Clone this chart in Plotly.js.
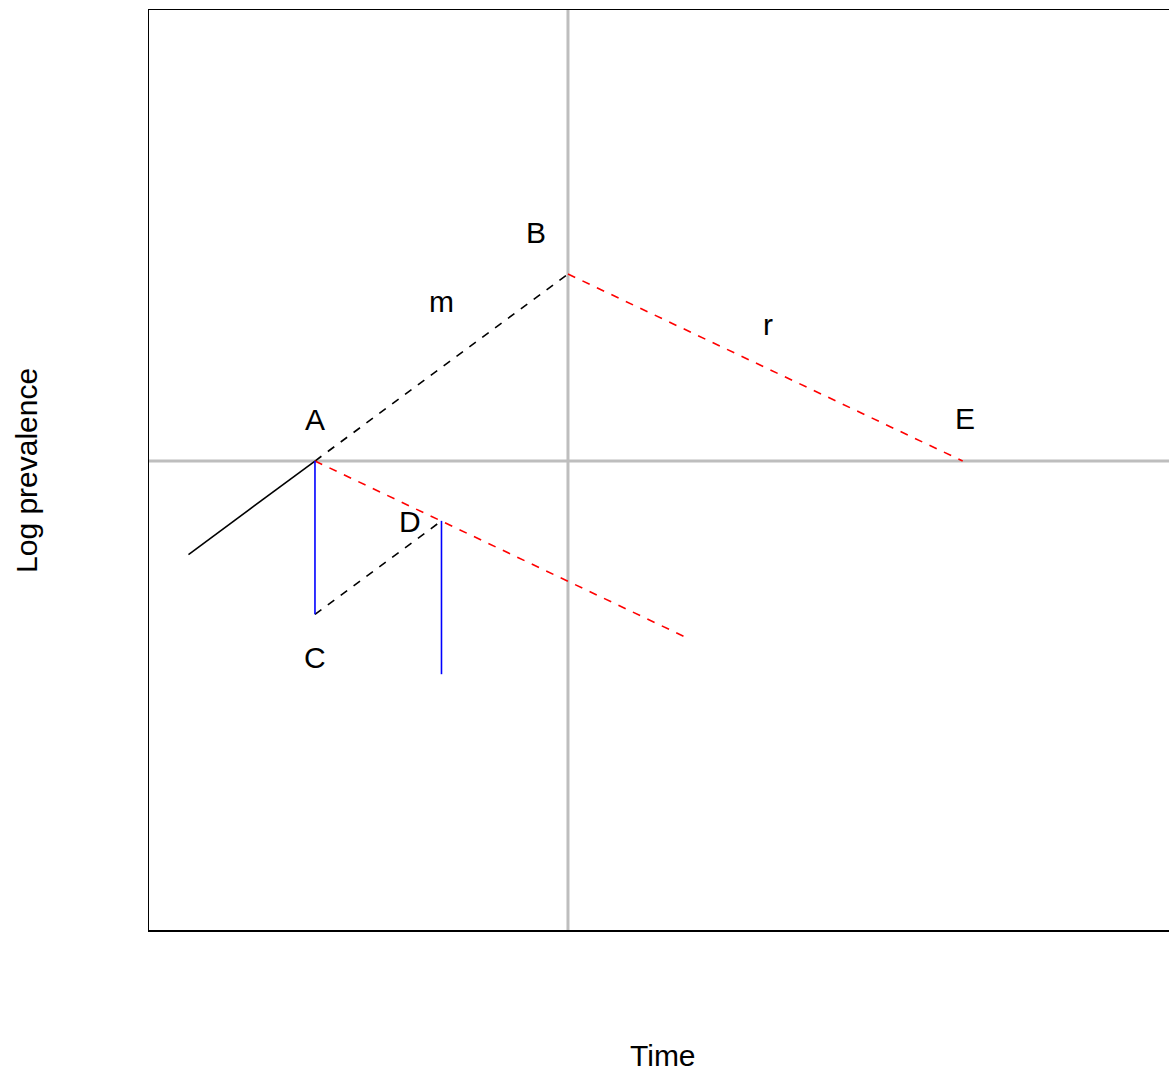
<!DOCTYPE html>
<html>
<head>
<meta charset="utf-8">
<script src="https://cdn.plot.ly/plotly-3.0.1.min.js"></script>
<style>html,body{margin:0;padding:0;background:#fff;overflow:hidden}</style>
</head>
<body>
<div id="chart" style="width:1169px;height:1071px"></div>
<script>
// Key points (time, log prevalence)
const pointA = [1, 0];
const pointB = [3, 2];
const pointC = [1, -1.64];
const pointD = [2, -0.64];
const pointE = [6.12, 0];
const startPoint = [0, -1];
const redEnd = [3.97, -1.91];
const blueEndD = [2, -2.28];
const refTime = 3;
const refLevel = 0;

const labelNames = ["A", "B", "C", "D", "E", "m", "r"];
const labelX = [1, 2.75, 1, 1.75, 6.14, 2.0, 4.58];
const labelY = [0.44, 2.44, -2.10, -0.65, 0.45, 1.71, 1.46];

const font = {family: "Liberation Sans, Arial, sans-serif", size: 30, color: "#000"};
function seg(p, q, color, dash) {
  return {x: [p[0], q[0]], y: [p[1], q[1]], mode: "lines", type: "scatter",
    line: {color: color, width: 1.6, dash: dash}, hoverinfo: "skip", showlegend: false};
}
const dash = "8px,8px";
const traces = [
  seg(startPoint, pointA, "#000", "solid"),
  seg(pointA, pointB, "#000", dash),
  seg(pointC, pointD, "#000", dash),
  seg(pointB, pointE, "#ff0000", dash),
  seg(pointA, redEnd, "#ff0000", dash),
  seg(pointA, pointC, "#0000ff", "solid"),
  seg(pointD, blueEndD, "#0000ff", "solid")
];

const annotations = labelNames.map((t, i) => ({
  x: labelX[i], y: labelY[i], xref: "x", yref: "y", text: t, showarrow: false,
  xanchor: "center", yanchor: "middle", font: font
}));
annotations.push({x: 0.504, y: -0.1359, xref: "paper", yref: "paper", text: "Time",
  showarrow: false, xanchor: "center", yanchor: "middle", font: font});
annotations.push({x: -0.1206, y: 0.5, xref: "paper", yref: "paper", text: "Log prevalence",
  showarrow: false, xanchor: "center", yanchor: "middle", textangle: -90, font: font});

const layout = {
  width: 1169, height: 1071,
  margin: {l: 149, r: 0, t: 10, b: 141, pad: 0},
  paper_bgcolor: "#fff", plot_bgcolor: "#fff",
  showlegend: false,
  xaxis: {range: [-0.312, 7.751], showgrid: false, zeroline: false, showticklabels: false,
    ticks: "", showline: true, mirror: true, linecolor: "#000", linewidth: 1.5, fixedrange: true},
  yaxis: {range: [-5.016, 4.824], showgrid: false, zeroline: false, showticklabels: false,
    ticks: "", showline: true, mirror: false, linecolor: "#000", linewidth: 1.5, fixedrange: true},
  shapes: [
    {type: "line", xref: "x", yref: "paper", x0: refTime, x1: refTime, y0: 0, y1: 1,
      line: {color: "#bebebe", width: 3}, layer: "below"},
    {type: "line", xref: "paper", yref: "y", x0: 0, x1: 1, y0: refLevel, y1: refLevel,
      line: {color: "#bebebe", width: 3}, layer: "below"}
  ],
  annotations: annotations
};
Plotly.newPlot("chart", traces, layout, {displayModeBar: false, staticPlot: true});
</script>
</body>
</html>
